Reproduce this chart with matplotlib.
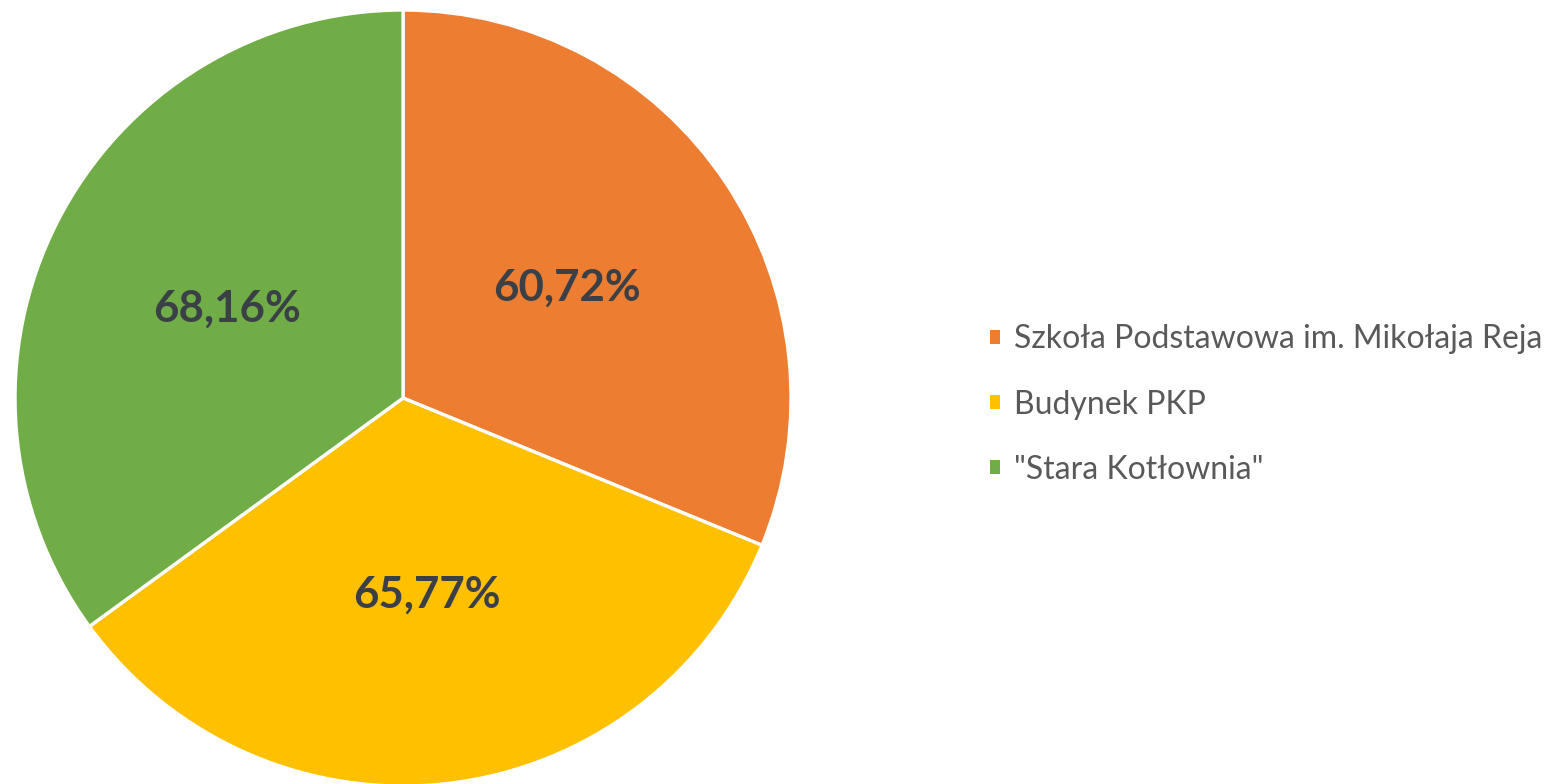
import matplotlib.pyplot as plt
from matplotlib.patches import Patch

# data
labels = ['Szkoła Podstawowa im. Mikołaja Reja', 'Budynek PKP', '"Stara Kotłownia"']
values = [60.72, 65.77, 68.16]
colors = ['#ED7D31', '#FFC000', '#70AD47']

total = sum(values)

def fmt(p):
    return f'{p * total / 100:.2f}'.replace('.', ',') + '%'

fig = plt.figure(figsize=(15.59, 7.84), dpi=100)
ax = fig.add_axes([0.00962, -0.0026, 0.4978, 0.9898])

wedges, _, autotexts = ax.pie(values, colors=colors, startangle=90, counterclock=False,
                              autopct=fmt, pctdistance=0.51,
                              wedgeprops=dict(edgecolor='white', linewidth=2.4))
for t in autotexts:
    t.set_fontfamily('Lato')
    t.set_fontweight('bold')
    t.set_fontsize(31.5)
    t.set_color('#3b4047')
ax.set_xlim(-1, 1)
ax.set_ylim(-1, 1)
ax.set_aspect('equal')
ax.axis('off')

handles = [Patch(facecolor=c, edgecolor='none') for c in colors]
leg = fig.legend(handles, labels, loc='center left', bbox_to_anchor=(0.6165, 0.484),
                 frameon=False, prop={'family': 'Lato', 'size': 23},
                 handlelength=0.32, handleheight=0.32, handletextpad=0.45,
                 labelspacing=1.1)
for t in leg.get_texts():
    t.set_color('#595959')

fig.savefig('out.png', dpi=100)
